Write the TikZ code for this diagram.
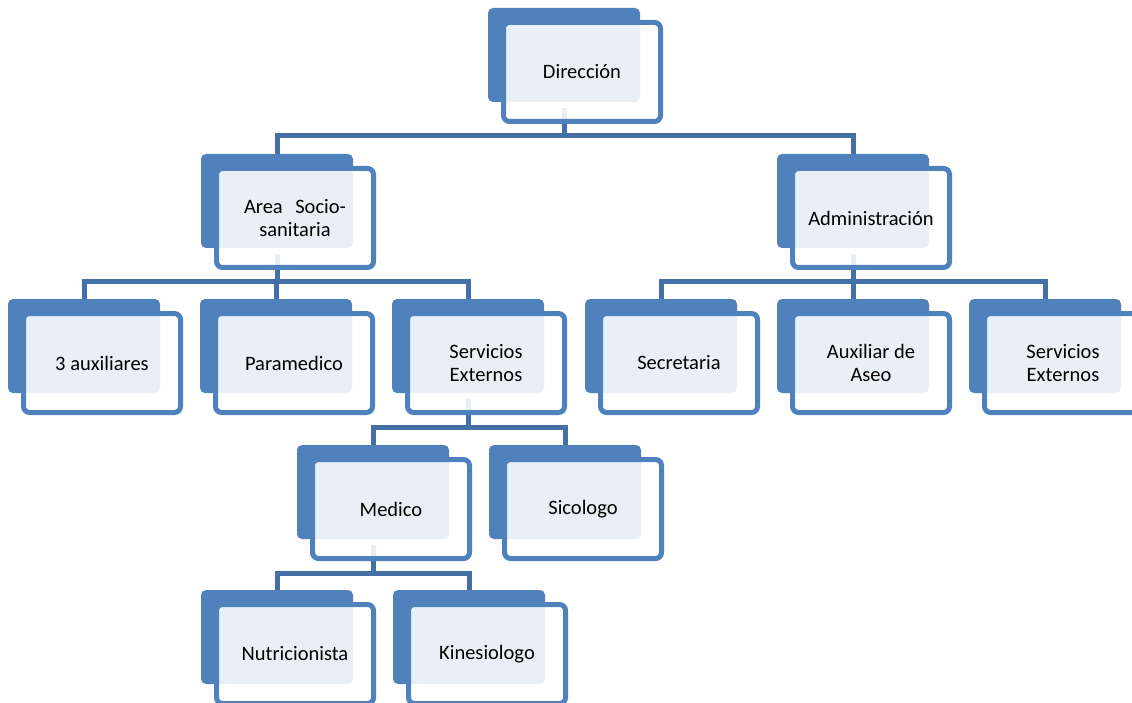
\documentclass[tikz,border=0pt]{standalone}
\usepackage{fontspec}
\setmainfont{Carlito}
\usetikzlibrary{calc}
\pgfdeclarelayer{bg}
\pgfsetlayers{bg,main}
\definecolor{boxblue}{RGB}{79,129,189}
\definecolor{connblue}{RGB}{68,112,168}
\newcommand\orgbox[4]{%
  \node[backbox] (#1) at (#2+76,#3+47) {};
  \node[frontbox] (#1f) at (#2+94,#3+64) {#4};
}
\begin{document}
\begin{tikzpicture}[x=1pt,y=-1pt,
  backbox/.style={fill=boxblue, rounded corners=5pt, minimum width=152pt, minimum height=94pt, inner sep=0pt, outer sep=0pt},
  frontbox/.style={draw=boxblue, line width=5pt, fill=white, fill opacity=0.88, text opacity=1, rounded corners=6pt, minimum width=157pt, minimum height=99pt, inner sep=0pt, outer sep=0pt, align=center, font=\fontsize{20.5}{23}\selectfont},
  conn/.style={draw=connblue, line width=5pt}]
\useasboundingbox (0,0) rectangle (1132,703);
\clip (0,0) rectangle (1132,703);
% row 1
\orgbox{dir}{488}{8}{Dirección}
% row 2
\orgbox{area}{201}{154}{\makebox[102pt][s]{Area Socio-}\\sanitaria}
\orgbox{admin}{777}{154}{Administración}
% row 3
\orgbox{aux}{8}{299}{3 auxiliares}
\orgbox{para}{200}{299}{Paramedico}
\orgbox{servl}{392}{299}{Servicios\\Externos}
\orgbox{secr}{585}{299}{Secretaria}
\orgbox{aseo}{777}{299}{Auxiliar de\\Aseo}
\orgbox{servr}{969}{299}{Servicios\\Externos}
% row 4
\orgbox{med}{297}{445}{Medico}
\orgbox{sico}{489}{445}{Sicologo}
% row 5
\orgbox{nutri}{201}{590}{Nutricionista}
\orgbox{kine}{393}{590}{Kinesiologo}
% connectors
\begin{pgfonlayer}{bg}
\foreach \c in {area,admin}
  \draw[conn] ($(dir.south)+(0,6)$) -- ($(dir.south)+(0,34)$) -| (\c.north);
\foreach \c in {aux,para,servl}
  \draw[conn] ($(area.south)+(0,6)$) -- ($(area.south)+(0,34)$) -| (\c.north);
\foreach \c in {secr,aseo,servr}
  \draw[conn] ($(admin.south)+(0,6)$) -- ($(admin.south)+(0,34)$) -| (\c.north);
\foreach \c in {med,sico}
  \draw[conn] ($(servl.south)+(0,6)$) -- ($(servl.south)+(0,34)$) -| (\c.north);
\foreach \c in {nutri,kine}
  \draw[conn] ($(med.south)+(0,6)$) -- ($(med.south)+(0,34)$) -| (\c.north);
\end{pgfonlayer}
\end{tikzpicture}
\end{document}
